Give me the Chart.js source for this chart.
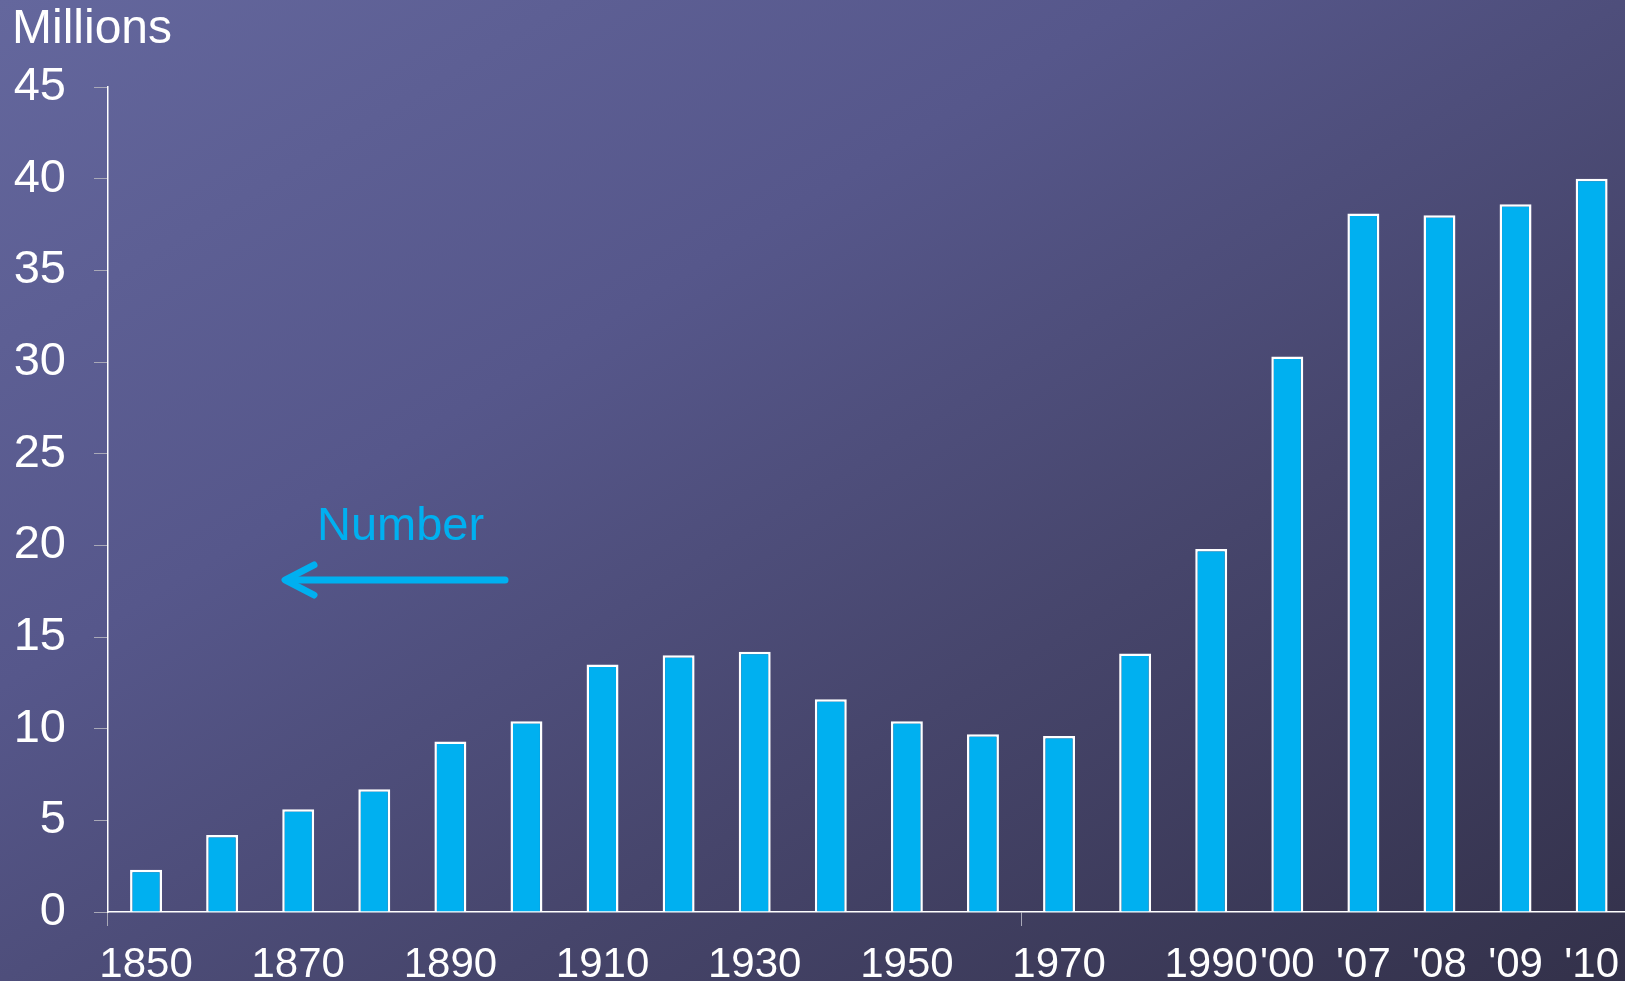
<!DOCTYPE html>
<html>
<head>
<meta charset="utf-8">
<title>Millions</title>
<script src="https://cdn.jsdelivr.net/npm/chart.js@4/dist/chart.umd.min.js"></script>
<style>
  html, body { margin: 0; padding: 0; }
  body {
    width: 1625px; height: 981px; overflow: hidden;
    background: linear-gradient(to bottom right, #64679d 0%, #56578b 35%, #46456b 65%, #33314a 100%);
  }
  canvas { display: block; }
</style>
</head>
<body>
<!-- canvas a bit wider than the window: the last category runs past the right edge -->
<canvas id="chart" width="1633" height="981"></canvas>
<script>
// categories (one per bar)
const years = ['1850', '1860', '1870', '1880', '1890', '1900', '1910', '1920', '1930', '1940',
               '1950', '1960', '1970', '1980', '1990', '2000', '2007', '2008', '2009', '2010'];
// labels shown under the axis ('' = skipped)
const tickLabels = ['1850', '', '1870', '', '1890', '', '1910', '', '1930', '',
                    '1950', '', '1970', '', '1990', "'00", "'07", "'08", "'09", "'10"];
// values in millions
const numbers = [2.3, 4.2, 5.6, 6.7, 9.3, 10.4, 13.5, 14.0, 14.2, 11.6,
                 10.4, 9.7, 9.6, 14.1, 19.8, 30.3, 38.1, 38.0, 38.6, 40.0];
const yTicks = [0, 5, 10, 15, 20, 25, 30, 35, 40, 45];

const fontFamily = '"Liberation Sans", Arial, sans-serif';
const barColor = '#00b0f0';

// title + annotation "Number" with arrow
const extras = {
    id: 'extras',
    afterDraw(chart) {
        const ctx = chart.ctx;
        ctx.save();
        ctx.fillStyle = '#ffffff';
        ctx.font = '48px ' + fontFamily;
        ctx.textAlign = 'left';
        ctx.textBaseline = 'alphabetic';
        ctx.fillText('Millions', 12, 43);

        ctx.fillStyle = barColor;
        ctx.font = '47px ' + fontFamily;
        ctx.fillText('Number', 317, 540);

        ctx.strokeStyle = barColor;
        ctx.lineWidth = 7;
        ctx.lineCap = 'round';
        ctx.lineJoin = 'round';
        ctx.beginPath();
        ctx.moveTo(505, 580);
        ctx.lineTo(287, 580);
        ctx.stroke();
        ctx.beginPath();
        ctx.moveTo(314, 565);
        ctx.lineTo(285, 580);
        ctx.lineTo(314, 595);
        ctx.stroke();
        ctx.restore();
    }
};

new Chart(document.getElementById('chart'), {
    type: 'bar',
    data: {
        labels: years,
        datasets: [{
            label: 'Number',
            data: numbers,
            backgroundColor: barColor,
            borderColor: '#ffffff',
            borderWidth: 2.5,
            categoryPercentage: 1,
            barPercentage: 0.42
        }]
    },
    options: {
        responsive: false,
        animation: false,
        devicePixelRatio: 1,
        layout: { padding: { top: 87, right: 0, left: 0, bottom: 0 } },
        plugins: { legend: { display: false }, tooltip: { enabled: false } },
        scales: {
            x: {
                offset: true,
                border: { color: '#ffffff', width: 1.5 },
                grid: {
                    offset: true,
                    drawOnChartArea: false,
                    drawTicks: true,
                    tickLength: 14,
                    color: ctx => (ctx.index % 12 === 0 ? '#a9a9b8' : 'rgba(0,0,0,0)')
                },
                ticks: {
                    autoSkip: false,
                    maxRotation: 0,
                    color: '#ffffff',
                    padding: 14,
                    font: { family: fontFamily, size: 42 },
                    callback: (v, i) => tickLabels[i]
                },
                afterFit: scale => { scale.height = 69; }
            },
            y: {
                min: 0,
                max: 45,
                border: { color: '#ffffff', width: 1.5 },
                grid: {
                    drawOnChartArea: false,
                    drawTicks: true,
                    tickLength: 14,
                    color: '#a9a9b8'
                },
                afterBuildTicks: scale => { scale.ticks = yTicks.map(v => ({ value: v })); },
                ticks: {
                    color: '#ffffff',
                    padding: 28,
                    font: { family: fontFamily, size: 47 }
                },
                afterFit: scale => { scale.width = 108; }
            }
        }
    },
    plugins: [extras]
});
</script>
</body>
</html>
